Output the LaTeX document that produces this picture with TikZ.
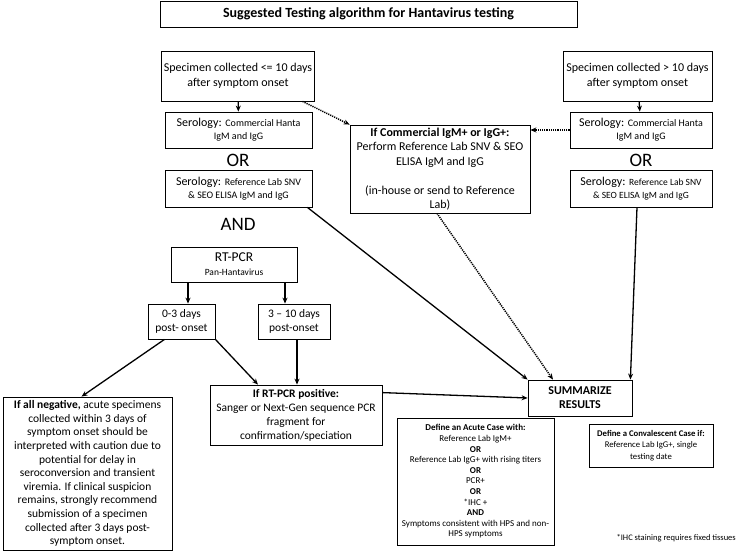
\documentclass[tikz,border=0pt]{standalone}
\usepackage{fontspec}
\setmainfont{Carlito}
\usetikzlibrary{arrows.meta,positioning}

\begin{document}
\begin{tikzpicture}[
			x=1pt, y=-1pt,
			box/.style={draw, line width=0.8pt, align=center, inner sep=2pt, font=\fontsize{12}{15}\selectfont},
			big/.style={font=\fontsize{19}{21}\selectfont},
			arrow/.style={-{Stealth[length=6pt,width=5pt]}, line width=1.3pt},
			dotarrow/.style={arrow, line width=1.5pt, dash pattern=on 1.2pt off 1pt}
		]
		\useasboundingbox (0,0) rectangle (740,553);

		% title
		\node[box, minimum width=417pt, minimum height=26pt, font=\fontsize{14}{16}\selectfont\bfseries] (title) at (368.5,14) {Suggested Testing algorithm for Hantavirus testing};

		% left column: early specimen
		\node[box, minimum width=150pt, minimum height=50pt] (specearly) at (238,76) {Specimen collected <= 10 days\\after symptom onset};
		\node[box, minimum width=147pt, minimum height=36pt, font=\fontsize{12}{13}\selectfont] (serolA) at (238.5,130) {Serology: {\fontsize{10}{12}\selectfont Commercial Hanta}\\{\fontsize{10}{12}\selectfont IgM and IgG}};
		\node[big] (orA) at (238,160) {OR};
		\node[box, minimum width=147pt, minimum height=37pt, font=\fontsize{12}{13}\selectfont] (serolB) at (238.5,188.5) {Serology: {\fontsize{10}{12}\selectfont Reference Lab SNV}\\{\fontsize{10}{12}\selectfont \& SEO ELISA IgM and IgG}};
		\node[big] (andA) at (238,224) {AND};

		% PCR branch
		\node[box, minimum width=126pt, minimum height=35pt, font=\fontsize{13.5}{14}\selectfont] (rtpcr) at (234,264.5) {RT-PCR\\{\fontsize{9.5}{11}\selectfont Pan-Hantavirus}};
		\node[box, minimum width=67pt, minimum height=35pt, font=\fontsize{11.5}{14}\selectfont] (early) at (181.5,321.5) {0-3 days\\post- onset};
		\node[box, minimum width=72pt, minimum height=35pt, font=\fontsize{11.5}{14}\selectfont] (late) at (294,321.5) {3 -- 10 days\\post-onset};
		\node[box, minimum width=172pt, minimum height=60pt, font=\fontsize{11.5}{14}\selectfont] (pcrpos) at (296,415) {\textbf{If RT-PCR positive:}\\Sanger or Next-Gen sequence PCR\\fragment for\\confirmation/speciation};
		\node[box, minimum width=169pt, minimum height=153pt, font=\fontsize{11.5}{13.6}\selectfont] (allneg) at (87.5,473.5) {\textbf{If all negative,} acute specimens\\collected within 3 days of\\symptom onset should be\\interpreted with caution due to\\potential for delay in\\seroconversion and transient\\viremia. If clinical suspicion\\remains, strongly recommend\\submission of a specimen\\collected after 3 days post-\\symptom onset.};

		% centre: commercial positive
		\node[box, minimum width=180pt, minimum height=88pt, font=\fontsize{12}{14.5}\selectfont] (commpos) at (440,169) {\textbf{If Commercial IgM+ or IgG+:}\\Perform Reference Lab SNV \& SEO\\ELISA IgM and IgG\\[14.5pt](in-house or send to Reference\\Lab)};

		% right column: late specimen
		\node[box, minimum width=149pt, minimum height=50pt] (speclate) at (637.5,76) {Specimen collected > 10 days\\after symptom onset};
		\node[box, minimum width=142pt, minimum height=36pt, font=\fontsize{12}{13}\selectfont] (serolC) at (641,130) {Serology: {\fontsize{10}{12}\selectfont Commercial Hanta}\\{\fontsize{10}{12}\selectfont IgM and IgG}};
		\node[big] (orC) at (641,160) {OR};
		\node[box, minimum width=142pt, minimum height=37pt, font=\fontsize{12}{13}\selectfont] (serolD) at (641,188.5) {Serology: {\fontsize{9.5}{12}\selectfont Reference Lab SNV}\\{\fontsize{9.5}{12}\selectfont \& SEO ELISA IgM and IgG}};

		% results
		\node[box, minimum width=104pt, minimum height=36pt, font=\fontsize{12}{14}\selectfont\bfseries] (summary) at (580,398) {SUMMARIZE\\RESULTS};
		\node[box, minimum width=157pt, minimum height=127pt, inner sep=1pt, font=\fontsize{9}{10.6}\selectfont] (acute) at (475.5,481.5) {\textbf{Define an Acute Case with:}\\Reference Lab IgM+\\\textbf{OR}\\Reference Lab IgG+ with rising titers\\\textbf{OR}\\PCR+\\\textbf{OR}\\*IHC +\\\textbf{AND}\\Symptoms consistent with HPS and non-\\HPS symptoms};
		\node[box, minimum width=124pt, minimum height=43pt, font=\fontsize{8.7}{11.5}\selectfont] (conval) at (651,445.5) {\textbf{Define a Convalescent Case if:}\\Reference Lab IgG+, single\\testing date};
		\node[anchor=east, inner sep=0pt, font=\fontsize{8.5}{10}\selectfont] (ihcnote) at (736,538) {*IHC staining requires fixed tissues};

		% connectors
		\draw[arrow] (specearly) -- (serolA);
		\draw[arrow] (speclate) -- (serolC);
		\draw[dotarrow] ([xshift=-12pt]specearly.south east) -- (commpos.north west);
		\draw[dotarrow] (serolC.west) -- (serolC.west -| commpos.east);
		\draw[dotarrow] ([xshift=-3pt]commpos.south) -- ([xshift=-27pt]summary.north);
		\draw[arrow] ([xshift=-5pt]serolB.south east) -- (summary.north west);
		\draw[arrow] ([xshift=-4pt]serolD.south) -- ([xshift=-2pt]summary.north east);
		\draw[arrow] ([yshift=-8pt]pcrpos.north east) -- (summary.west);
		\draw[arrow] ([xshift=-46pt]rtpcr.south) -- ([xshift=-46pt]rtpcr.south |- early.north);
		\draw[arrow] ([xshift=51pt]rtpcr.south) -- ([xshift=51pt]rtpcr.south |- late.north);
		\draw[arrow] ([xshift=-17pt]early.south) -- ([xshift=-6pt]allneg.north);
		\draw[arrow] (early.south east) -- ([xshift=-38pt]pcrpos.north);
		\draw[arrow] ([xshift=3pt]late.south) -- ([xshift=3pt]late.south |- pcrpos.north);

	\end{tikzpicture}
\end{document}
